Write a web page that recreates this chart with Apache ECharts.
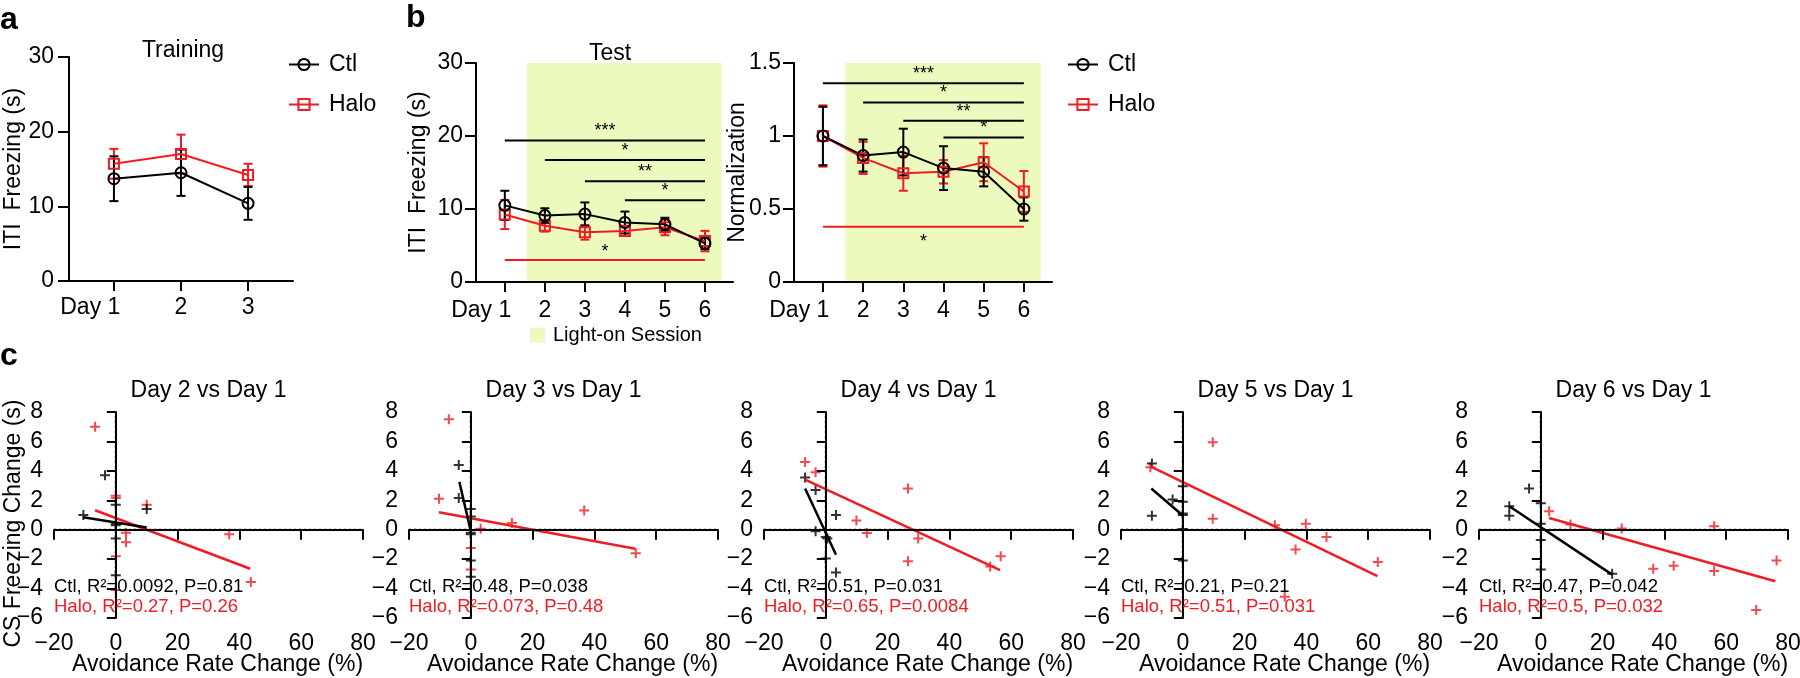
<!DOCTYPE html>
<html><head><meta charset="utf-8">
<script src="https://cdn.jsdelivr.net/npm/echarts@6/dist/echarts.min.js"></script>
<style>html,body{margin:0;padding:0;background:#fff}#c{width:1800px;height:678px}</style>
</head><body><div id="c"></div><script>
// ---------------- data ----------------
const trainDays = [1, 2, 3];
const trainLabels = ['Day 1', '2', '3'];
const trainCtlMean = [13.7, 14.5, 10.4];
const trainCtlSem = [3.0, 3.1, 2.2];
const trainHaloMean = [15.7, 17.0, 14.2];
const trainHaloSem = [2.0, 2.6, 1.5];

const testDays = [1, 2, 3, 4, 5, 6];
const testLabels = ['Day 1', '2', '3', '4', '5', '6'];
const testCtlMean = [10.5, 9.1, 9.3, 8.15, 7.9, 5.3];
const testCtlSem = [2.0, 1.0, 1.6, 1.5, 0.9, 0.8];
const testHaloMean = [9.25, 7.7, 6.8, 7.0, 7.5, 5.6];
const testHaloSem = [2.0, 0.8, 1.0, 0.7, 1.1, 1.4];

const normCtlMean = [1.0, 0.866, 0.89, 0.78, 0.755, 0.5];
const normCtlSem = [0.2, 0.11, 0.16, 0.15, 0.1, 0.08];
const normHaloMean = [1.0, 0.85, 0.745, 0.755, 0.82, 0.62];
const normHaloSem = [0.21, 0.11, 0.12, 0.08, 0.13, 0.14];

const lightOnRange = [1.55, 6.42];
// significance bars: [fromDay, toDay, y, label]
const testSigCtl = [[1, 6, 19.4, '***'], [2, 6, 16.7, '*'], [3, 6, 13.8, '**'], [4, 6, 11.2, '*']];
const testSigHalo = [[1, 6, 3.0, '*']];
const normSigCtl = [[1, 6, 1.362, '***'], [2, 6, 1.23, '*'], [3, 6, 1.104, '**'], [4, 6, 0.99, '*']];
const normSigHalo = [[1, 6, 0.378, '*']];

const scatterTitles = ['Day 2 vs Day 1', 'Day 3 vs Day 1', 'Day 4 vs Day 1', 'Day 5 vs Day 1', 'Day 6 vs Day 1'];
const scXRange = [-20, 80];
const scYRange = [-6, 8];
const ctlPts = [
  [[-10.5, 1.0], [-3.5, 3.7], [0, 1.7], [0, 0.4], [0, 0.3], [0, -0.6], [0, -3.1], [10, 1.4]],
  [[-3.9, 4.4], [-3.9, 2.15], [0, 1.4], [0, 0.9], [0, -0.2], [0, -0.3], [0, -2.1], [0, -3.2]],
  [[-6.7, 3.55], [-3.3, 2.7], [-3.3, -0.1], [0, -0.5], [0.5, -0.6], [0, -1.95], [3.3, 1.0], [3.3, -2.9]],
  [[-10, 4.5], [-10, 0.95], [-3.3, 2.05], [0, 2.95], [0, 1.9], [0, 1.1], [0, 1.0], [0, 0.05], [0, -2.1]],
  [[-10.2, 1.6], [-10.2, 0.95], [-3.8, 2.8], [0, 1.8], [0, 0.4], [0, -0.7], [0, -2.7], [23.1, -3.0]]
];
const haloPts = [
  [[-6.7, 7.0], [0, 2.3], [0, 2.15], [3.3, -0.2], [3.3, -0.85], [10, 1.7], [0, -1.8], [0, -4.1], [36.7, -0.3], [43.7, -3.55]],
  [[-7.1, 7.5], [-10.3, 2.1], [3.2, 0.07], [13.3, 0.45], [36.7, 1.3], [53.4, -1.6], [0, -1.25], [0, -2.7]],
  [[-6.7, 4.6], [-3.3, 3.9], [9.9, 0.63], [13.3, -0.23], [26.6, 2.8], [26.6, -2.15], [29.9, -0.6], [53.2, -2.5], [56.6, -1.8]],
  [[-10.5, 4.25], [9.7, 5.95], [9.7, 0.75], [29.8, 0.3], [39.8, 0.4], [36.5, -1.35], [46.5, -0.5], [63.1, -2.2], [33.0, -4.55]],
  [[2.7, 1.25], [9.6, 0.35], [26.2, 0.08], [56.1, 0.23], [36.4, -2.65], [43.0, -2.45], [56.1, -2.8], [69.7, -5.45], [76.3, -2.1]]
];
const ctlFit = [
  [[-10.5, 0.85], [10, 0.15]],
  [[-3.7, 3.25], [0, -0.1]],
  [[-6.7, 2.8], [3.3, -1.7]],
  [[-10.2, 2.8], [0, 0.97]],
  [[-10.2, 1.6], [23.1, -3.05]]
];
const haloFit = [
  [[-6.7, 1.32], [43.5, -2.65]],
  [[-10.3, 1.18], [53.2, -1.29]],
  [[-6.7, 3.4], [56.4, -2.75]],
  [[-10.5, 4.3], [63, -3.15]],
  [[2.7, 0.8], [75.9, -3.5]]
];
const ctlStats = ['Ctl, R\u00b2=0.0092, P=0.81', 'Ctl, R\u00b2=0.48, P=0.038', 'Ctl, R\u00b2=0.51, P=0.031', 'Ctl, R\u00b2=0.21, P=0.21', 'Ctl, R\u00b2=0.47, P=0.042'];
const haloStats = ['Halo, R\u00b2=0.27, P=0.26', 'Halo, R\u00b2=0.073, P=0.48', 'Halo, R\u00b2=0.65, P=0.0084', 'Halo, R\u00b2=0.51, P=0.031', 'Halo, R\u00b2=0.5, P=0.032'];

// ---------------- style / layout ----------------
const FONT = '"Liberation Sans", Arial, sans-serif';
const RED = '#f01c24';
const BLACK = '#000000';
const GREEN = '#edfabd';
const FS = 23;
const PLUS = 'path://M4,0H6V4H10V6H6V10H4V6H0V4H4Z';

const grids = [
  { left: 69, top: 57, width: 224, height: 224 },
  { left: 476, top: 63, width: 257, height: 219 },
  { left: 794, top: 63, width: 258, height: 219 }
];
const scLefts = [54, 409, 764, 1121, 1479];
const scTop = 412, scW = 309, scH = 206;
scLefts.forEach(l => grids.push({ left: l, top: scTop, width: scW, height: scH }));
grids.forEach(g => { g.outerBoundsMode = 'none'; g.containLabel = false; });

const lineAx = { show: true, lineStyle: { color: BLACK, width: 2 } };
function tick(len, custom) {
  const t = { show: true, length: len, inside: false, lineStyle: { color: BLACK, width: 2 } };
  if (custom) t.customValues = custom;
  return t;
}
const nameStyle = (pad) => ({ color: BLACK, fontSize: FS, fontFamily: FONT, padding: pad || 0 });
const richDay = {
  h: { fontSize: FS, fontFamily: FONT, color: BLACK },
  g: { fontSize: FS, fontFamily: FONT, color: 'rgba(0,0,0,0)' }
};
// label of the first day: prefix drawn to the left, the number centred on its tick
function firstDayFormatter(labels) {
  return function () {
    const m = labels[0].match(/^(\D+)(\d+)$/);
    return m ? '{h|' + m[1] + '}' + m[2] + '{g|' + m[1] + '}' : labels[0];
  };
}
function dayFormatter(labels) {
  return v => labels[Math.round(v) - 1] || '';
}
const minusFmt = v => (v < 0 ? '\u2212' + (-v) : String(v));
function xDayAxis(gi, days, labels, min, max, margin) {
  return { gridIndex: gi, type: 'value', position: 'bottom', min, max, axisLine: lineAx, axisTick: tick(10, days),
    axisLabel: { customValues: days.slice(1), formatter: dayFormatter(labels), margin, color: BLACK, fontSize: FS, fontFamily: FONT,
      showMinLabel: true, showMaxLabel: true },
    splitLine: { show: false }, z: 5 };
}
function xFirstDayAxis(gi, days, labels, min, max, margin) {
  return { gridIndex: gi, type: 'value', position: 'bottom', offset: 0, min, max, axisLine: { show: false }, axisTick: { show: false },
    axisLabel: { customValues: [days[0]], formatter: firstDayFormatter(labels), rich: richDay, margin, color: BLACK, fontSize: FS, fontFamily: FONT,
      showMinLabel: true, showMaxLabel: true },
    splitLine: { show: false }, z: 5 };
}

const xAxis = [
  xDayAxis(0, trainDays, trainLabels, 0.33, 3.67, 15),
  xDayAxis(1, testDays, testLabels, 0.28, 6.7, 17),
  xDayAxis(2, testDays, testLabels, 0.28, 6.7, 17)
];
const yAxis = [
  { gridIndex: 0, type: 'value', min: 0, max: 30, interval: 10, axisLine: lineAx, axisTick: tick(11),
    axisLabel: { margin: 15, color: BLACK, fontSize: FS, fontFamily: FONT, showMinLabel: true, showMaxLabel: true }, splitLine: { show: false },
    name: 'ITI  Freezing (s)', nameLocation: 'middle', nameGap: 44, nameMoveOverlap: false, nameTextStyle: nameStyle(), z: 5 },
  { gridIndex: 1, type: 'value', min: 0, max: 30, interval: 10, axisLine: lineAx, axisTick: tick(11),
    axisLabel: { margin: 13, color: BLACK, fontSize: FS, fontFamily: FONT, showMinLabel: true, showMaxLabel: true }, splitLine: { show: false },
    name: 'ITI  Freezing (s)', nameLocation: 'middle', nameGap: 46, nameMoveOverlap: false, nameTextStyle: nameStyle(), z: 5 },
  { gridIndex: 2, type: 'value', min: 0, max: 1.5, interval: 0.5, axisLine: lineAx, axisTick: tick(11),
    axisLabel: { margin: 13, color: BLACK, fontSize: FS, fontFamily: FONT, showMinLabel: true, showMaxLabel: true }, splitLine: { show: false },
    name: 'Normalization', nameLocation: 'middle', nameGap: 45, nameMoveOverlap: false, nameTextStyle: nameStyle(), z: 5 }
];
for (let i = 0; i < 5; i++) {
  xAxis.push({ gridIndex: 3 + i, type: 'value', min: scXRange[0], max: scXRange[1], interval: 20, axisLine: lineAx, axisTick: tick(10),
    axisLabel: { margin: 14, color: BLACK, fontSize: FS, fontFamily: FONT, formatter: minusFmt, showMinLabel: true, showMaxLabel: true }, splitLine: { show: false },
    name: 'Avoidance Rate Change (%)', nameLocation: 'middle', nameGap: 35, nameMoveOverlap: false, nameTextStyle: nameStyle([0, 0, 0, 18]), z: 5 });
  const ya = { gridIndex: 3 + i, type: 'value', min: scYRange[0], max: scYRange[1], interval: 2, axisLine: lineAx, axisTick: tick(9),
    axisLabel: { margin: 11, color: BLACK, fontSize: FS, fontFamily: FONT, formatter: minusFmt, showMinLabel: true, showMaxLabel: true }, splitLine: { show: false }, z: 5 };
  if (i === 0) Object.assign(ya, { name: 'CS Freezing Change (s)', nameLocation: 'middle', nameGap: 29, nameMoveOverlap: false, nameTextStyle: nameStyle([0, 17, 0, 0]) });
  yAxis.push(ya);
}
// overlay axes carrying only the "Day 1" labels
xAxis.push(xFirstDayAxis(0, trainDays, trainLabels, 0.33, 3.67, 15));
xAxis.push(xFirstDayAxis(1, testDays, testLabels, 0.28, 6.7, 17));
xAxis.push(xFirstDayAxis(2, testDays, testLabels, 0.28, 6.7, 17));

// ---------------- series ----------------
function errRender(params, api) {
  const x = api.value(0), m = api.value(1), s = api.value(2);
  const t = api.coord([x, m + s]), b = api.coord([x, m - s]);
  const hw = 4.5;
  const st = { stroke: api.visual('color'), lineWidth: 2, fill: null };
  return { type: 'group', children: [
    { type: 'line', shape: { x1: t[0], y1: t[1], x2: b[0], y2: b[1] }, style: st },
    { type: 'line', shape: { x1: t[0] - hw, y1: t[1], x2: t[0] + hw, y2: t[1] }, style: st },
    { type: 'line', shape: { x1: b[0] - hw, y1: b[1], x2: b[0] + hw, y2: b[1] }, style: st }
  ] };
}
function errSeries(gi, xs, means, sems, color) {
  return { type: 'custom', name: 'err', xAxisIndex: gi, yAxisIndex: gi, silent: true,
    data: xs.map((x, i) => [x, means[i], sems[i]]), itemStyle: { color }, renderItem: errRender, z: 3 };
}
function meanSeries(gi, name, xs, means, color, symbol, size) {
  return { type: 'line', name, xAxisIndex: gi, yAxisIndex: gi, silent: true,
    data: xs.map((x, i) => [x, means[i]]), symbol, symbolSize: size, showAllSymbol: true,
    lineStyle: { color, width: 2 }, itemStyle: { color: 'rgba(255,255,255,0)', borderColor: color, borderWidth: 2 }, z: 3 };
}
function sigSeries(gi, list, color, dy) {
  return { type: 'custom', name: 'sig', xAxisIndex: gi, yAxisIndex: gi, silent: true,
    data: list.map(d => [d[0], d[2]]), z: 3,
    renderItem: function (params, api) {
      const d = list[params.dataIndex];
      const p1 = api.coord([d[0], d[2]]), p2 = api.coord([d[1], d[2]]);
      return { type: 'group', children: [
        { type: 'line', shape: { x1: p1[0], y1: p1[1], x2: p2[0], y2: p2[1] }, style: { stroke: color, lineWidth: 2 } },
        { type: 'text', style: { text: d[3], x: (p1[0] + p2[0]) / 2, y: p1[1] + dy, textAlign: 'center', textVerticalAlign: 'middle',
          align: 'center', verticalAlign: 'middle', fill: BLACK, fontSize: 18, fontFamily: FONT } }
      ] };
    } };
}
function lightSeries(gi, ymax) {
  return { type: 'line', name: 'Light-on Session', xAxisIndex: gi, yAxisIndex: gi, silent: true,
    data: [[lightOnRange[0], 0], [lightOnRange[1], 0]], symbol: 'none', lineStyle: { opacity: 0, width: 0 },
    itemStyle: { color: GREEN }, z: 1,
    markArea: { silent: true, itemStyle: { color: GREEN }, data: [[{ xAxis: lightOnRange[0], yAxis: 0 }, { xAxis: lightOnRange[1], yAxis: ymax }]] } };
}

const series = [];
// panel a
series.push(errSeries(0, trainDays, trainHaloMean, trainHaloSem, RED));
series.push(meanSeries(0, 'Halo', trainDays, trainHaloMean, RED, 'rect', 10));
series.push(errSeries(0, trainDays, trainCtlMean, trainCtlSem, BLACK));
series.push(meanSeries(0, 'Ctl', trainDays, trainCtlMean, BLACK, 'circle', 11));
// panel b left
series.push(lightSeries(1, 30));
series.push(sigSeries(1, testSigCtl, BLACK, -9));
series.push(sigSeries(1, testSigHalo, RED, -8));
series.push(errSeries(1, testDays, testHaloMean, testHaloSem, RED));
series.push(meanSeries(1, 'Halo', testDays, testHaloMean, RED, 'rect', 10));
series.push(errSeries(1, testDays, testCtlMean, testCtlSem, BLACK));
series.push(meanSeries(1, 'Ctl', testDays, testCtlMean, BLACK, 'circle', 11));
// panel b right
series.push(lightSeries(2, 1.5));
series.push(sigSeries(2, normSigCtl, BLACK, -9));
series.push(sigSeries(2, normSigHalo, RED, 15));
series.push(errSeries(2, testDays, normHaloMean, normHaloSem, RED));
series.push(meanSeries(2, 'Halo', testDays, normHaloMean, RED, 'rect', 10));
series.push(errSeries(2, testDays, normCtlMean, normCtlSem, BLACK));
series.push(meanSeries(2, 'Ctl', testDays, normCtlMean, BLACK, 'circle', 11));
// panel c
const dottedStyle = { color: BLACK, width: 2, type: [2, 3] };
for (let i = 0; i < 5; i++) {
  const gi = 3 + i;
  // zero reference lines (dotted)
  series.push({ type: 'line', name: 'zero x', xAxisIndex: gi, yAxisIndex: gi, silent: true,
    data: [[0, scYRange[0]], [0, scYRange[1]]], symbol: 'none', lineStyle: dottedStyle, z: 2 });
  series.push({ type: 'line', name: 'zero y', xAxisIndex: gi, yAxisIndex: gi, silent: true,
    data: [[scXRange[0], 0], [scXRange[1], 0]], symbol: 'none', lineStyle: dottedStyle, z: 2 });
  series.push({ type: 'scatter', name: 'Halo points', xAxisIndex: gi, yAxisIndex: gi, silent: true, data: haloPts[i],
    symbol: PLUS, symbolSize: 10, itemStyle: { color: RED }, z: 3 });
  series.push({ type: 'scatter', name: 'Ctl points', xAxisIndex: gi, yAxisIndex: gi, silent: true, data: ctlPts[i],
    symbol: PLUS, symbolSize: 10, itemStyle: { color: BLACK }, z: 3 });
  series.push({ type: 'line', name: 'Halo fit', xAxisIndex: gi, yAxisIndex: gi, silent: true, data: haloFit[i],
    symbol: 'none', lineStyle: { color: RED, width: 2.5 }, z: 4 });
  series.push({ type: 'line', name: 'Ctl fit', xAxisIndex: gi, yAxisIndex: gi, silent: true, data: ctlFit[i],
    symbol: 'none', lineStyle: { color: BLACK, width: 2.5 }, z: 4 });
}

// ---------------- titles, legends, text ----------------
const tStyle = { color: BLACK, fontSize: FS, fontWeight: 'normal', fontFamily: FONT };
const title = [
  { text: 'Training', left: 183, top: 39, textAlign: 'center', padding: 0, textStyle: tStyle },
  { text: 'Test', left: 610, top: 42, textAlign: 'center', padding: 0, textStyle: tStyle }
];
scatterTitles.forEach((t, i) => title.push({ text: t, left: scLefts[i] + scW / 2, top: 379, textAlign: 'center', padding: 0, textStyle: tStyle }));

const legText = { color: BLACK, fontSize: FS, fontFamily: FONT, padding: [0, 0, 0, 5] };
const legend = [
  { left: 288, top: 53, orient: 'vertical', itemWidth: 30, itemHeight: 14, itemGap: 17, padding: 0, data: ['Ctl', 'Halo'], textStyle: legText, selectedMode: false },
  { left: 1067, top: 53, orient: 'vertical', itemWidth: 30, itemHeight: 14, itemGap: 17, padding: 0, data: ['Ctl', 'Halo'], textStyle: legText, selectedMode: false },
  { left: 530, top: 325, orient: 'vertical', itemWidth: 15, itemHeight: 15, padding: 0, data: [{ name: 'Light-on Session', icon: 'rect' }],
    textStyle: { color: BLACK, fontSize: 20, fontFamily: FONT, padding: [0, 0, 0, 3] }, selectedMode: false }
];

const graphic = [];
function addText(text, x, y, color, size, weight) {
  graphic.push({ type: 'text', x, y, silent: true, z: 10,
    style: { text, fill: color, font: (weight || 'normal') + ' ' + size + 'px ' + FONT,
      textVerticalAlign: 'middle', verticalAlign: 'middle', textAlign: 'left', align: 'left' } });
}
addText('a', 0, 20, BLACK, 32, 'bold');
addText('b', 406, 18, BLACK, 32, 'bold');
addText('c', 0, 356, BLACK, 32, 'bold');
for (let i = 0; i < 5; i++) {
  addText(ctlStats[i], scLefts[i], 587, BLACK, 18.5);
  addText(haloStats[i], scLefts[i], 607, RED, 18.5);
}

const chart = echarts.init(document.getElementById('c'), null, { renderer: 'canvas' });
chart.setOption({
  animation: false,
  backgroundColor: '#ffffff',
  textStyle: { fontFamily: FONT },
  grid: grids, xAxis, yAxis, series, title, legend, graphic
});
</script></body></html>
